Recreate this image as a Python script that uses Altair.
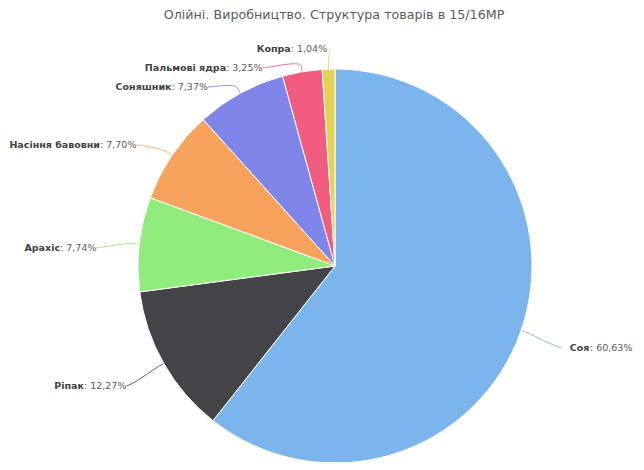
import altair as alt
import pandas as pd

# ---- data ----
names = ["Соя", "Ріпак", "Арахіс", "Насіння бавовни", "Соняшник", "Пальмові ядра", "Копра"]
shares = [60.63, 12.27, 7.74, 7.70, 7.37, 3.25, 1.04]
colors = ["#7cb5ec", "#434348", "#90ed7d", "#f7a35c", "#8085e9", "#f15c80", "#e4d354"]
title_text = "Олійні. Виробництво. Структура товарів в 15/16МР"

df = pd.DataFrame({"name": names, "share": shares, "idx": list(range(len(names)))})

# ---- layout (group coordinates; page = group + (8, 8 + PAD_TOP)) ----
W, H = 628, 430
PAD_TOP = 24
CX, CY = 327, 234          # pie centre
R = 197                    # pie radius
LCY = CY + 7               # centre of the label ellipse
LRX, LRY = 240, 228        # label ellipse radii
TOP, SP = 17, 19           # first label row and row spacing
BRK = 6                    # connector break distance
FONT = "DejaVu Sans"
FS = 9.5

color_scale = alt.Scale(domain=names, range=colors)

base = (
    alt.Chart(df)
    .transform_window(cum="sum(share)", sort=[alt.SortField("idx")], frame=[None, 0])
    .transform_joinaggregate(total="sum(share)")
    .transform_calculate(
        a="2*PI*(datum.cum - datum.share/2)/datum.total",
        vstr="': ' + replace(format(datum.share, '.2f'), '.', ',') + '%'",
    )
    .transform_calculate(
        right="sin(datum.a) > 0",
        side="sin(datum.a) > 0 ? 'R' : 'L'",
        nx=f"{CX} + {LRX}*sin(datum.a)",
        ny=f"{LCY} - {LRY}*cos(datum.a)",
    )
    .transform_window(rk="row_number()", groupby=["side"], sort=[alt.SortField("ny")])
    .transform_calculate(
        ly=f"max(datum.ny, {TOP} + (datum.rk - 1)*{SP})",
    )
    .transform_calculate(
        gx=f"{CX} + (datum.right ? 1 : -1)*{LRX}*cos(asin(clamp((datum.ly - {LCY})/{LRY}, -1, 1)))",
    )
    .transform_calculate(
        lx="datum.rk == 1 ? datum.nx : (datum.nx + datum.gx)/2",
        tx=f"{CX} + {R}*sin(datum.a)",
        ty=f"{CY} - {R}*cos(datum.a)",
        bx=f"{CX} + {R + BRK}*sin(datum.a)",
        by=f"{CY} - {R + BRK}*cos(datum.a)",
        qx=f"{CX} + {R + 2*BRK}*sin(datum.a)",
        qy=f"{CY} - {R + 2*BRK}*cos(datum.a)",
        vw="18.3 + 6.04*(length(datum.vstr) - 4)",
        nw="6.75*length(datum.name)",
    )
)

pie = alt.Chart(df).mark_arc(radius=R, stroke="white", strokeWidth=1).encode(
    theta=alt.Theta("share:Q", stack=True),
    color=alt.Color("name:N", scale=color_scale, legend=None),
    order=alt.Order("idx:Q"),
    x=alt.value(CX),
    y=alt.value(CY),
)

conn = (
    base.transform_calculate(ts="[0, 0.125, 0.25, 0.375, 0.5, 0.625, 0.75, 0.875, 1, 2]")
    .transform_flatten(["ts"])
    .transform_calculate(
        p1x="datum.lx + (datum.right ? -5 : 5)",
        u="1 - datum.ts",
    )
    .transform_calculate(
        px="datum.ts > 1 ? datum.tx : pow(datum.u,3)*datum.lx + 3*pow(datum.u,2)*datum.ts*datum.p1x + 3*datum.u*pow(datum.ts,2)*datum.qx + pow(datum.ts,3)*datum.bx",
        py="datum.ts > 1 ? datum.ty : pow(datum.u,3)*datum.ly + 3*pow(datum.u,2)*datum.ts*datum.ly + 3*datum.u*pow(datum.ts,2)*datum.qy + pow(datum.ts,3)*datum.by",
    )
    .mark_line(strokeWidth=1, opacity=0.85)
    .encode(
        x=alt.X("px:Q", scale=None),
        y=alt.Y("py:Q", scale=None),
        color=alt.Color("name:N", scale=color_scale, legend=None),
        detail="name:N",
        order="ts:Q",
    )
)

left = base.transform_filter("!datum.right")
right = base.transform_filter("datum.right")

name_l = left.transform_calculate(tx2="datum.lx - datum.vw").mark_text(
    align="right", baseline="middle", font=FONT, fontSize=FS, fontWeight="bold", color="#404040"
).encode(x=alt.X("tx2:Q", scale=None), y=alt.Y("ly:Q", scale=None), text="name:N")

val_l = left.mark_text(
    align="right", baseline="middle", font=FONT, fontSize=FS, color="#5a5a5a"
).encode(x=alt.X("lx:Q", scale=None), y=alt.Y("ly:Q", scale=None), text="vstr:N")

name_r = right.transform_calculate(tx2="datum.lx + 8").mark_text(
    align="left", baseline="middle", font=FONT, fontSize=FS, fontWeight="bold", color="#404040"
).encode(x=alt.X("tx2:Q", scale=None), y=alt.Y("ly:Q", scale=None), text="name:N")

val_r = right.transform_calculate(tx2="datum.lx + 8 + datum.nw").mark_text(
    align="left", baseline="middle", font=FONT, fontSize=FS, color="#5a5a5a"
).encode(x=alt.X("tx2:Q", scale=None), y=alt.Y("ly:Q", scale=None), text="vstr:N")

chart = (
    alt.layer(conn, pie, name_l, val_l, name_r, val_r)
    .properties(
        width=W,
        height=H,
        title=alt.TitleParams(
            text=title_text, font=FONT, fontSize=12.7, fontWeight="normal",
            color="#555b63", anchor="middle", dx=12, offset=10,
        ),
        autosize=alt.AutoSizeParams(type="none"),
        padding={"top": PAD_TOP, "left": 0, "right": 0, "bottom": 0},
    )
    .configure_view(stroke=None)
)

chart.save("out.html", embed_options={"renderer": "svg", "actions": False})
